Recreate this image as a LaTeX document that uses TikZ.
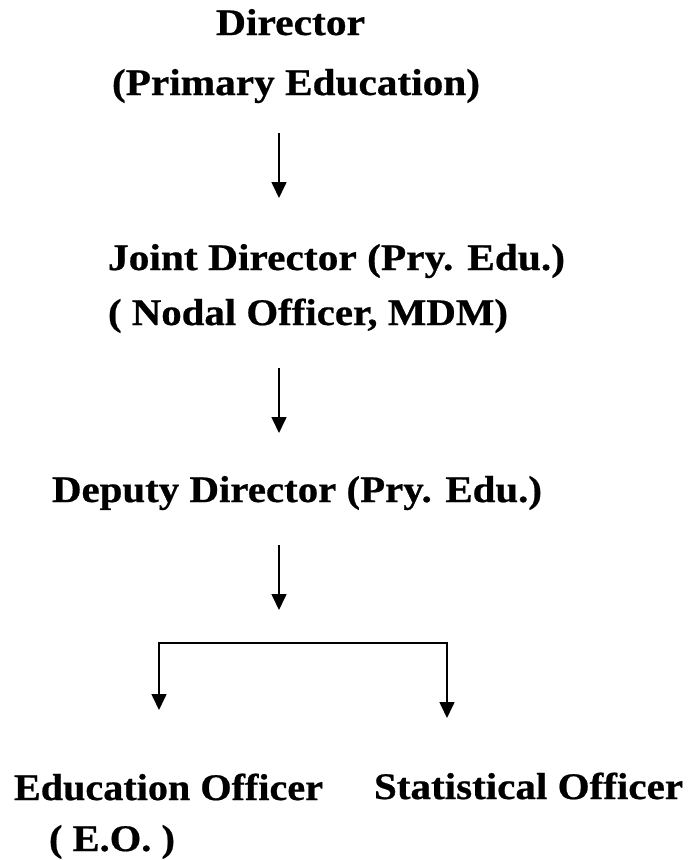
\documentclass[tikz,border=0pt]{standalone}
\usepackage{fontspec}
\usepackage{graphicx}
\setmainfont{Liberation Serif}[BoldFeatures={FakeBold=0.6}]
\usetikzlibrary{arrows.meta}
\newcommand{\fitw}[2]{\resizebox{#1pt}{\height}{#2}}
\begin{document}
\begin{tikzpicture}[x=1pt,y=-1pt,
  lbl/.style={anchor=base west,inner sep=0pt,outer sep=0pt,font=\bfseries\fontsize{37.5}{42}\selectfont},
  conn/.style={line width=1.6pt,-{Triangle[length=16pt,width=15pt]}},
  plain/.style={line width=1.6pt}]
\useasboundingbox[fill=white] (0,0) rectangle (689,860);
\node[lbl] (dir) at (216,35) {\fitw{149}{Director}};
\node[lbl] (dirsub) at (112,95) {\fitw{368}{(Primary Education)}};
\node[lbl] (jd) at (108,270) {\fitw{457}{Joint Director (Pry. Edu.)}};
\node[lbl] (jdsub) at (108,325) {\fitw{400}{( Nodal Officer, MDM)}};
\node[lbl] (dd) at (52,502) {\fitw{490}{Deputy Director (Pry. Edu.)}};
\node[lbl] (eo) at (14,800) {\fitw{309}{Education Officer}};
\node[lbl] (eosub) at (49,851) {\fitw{126}{( E.O. )}};
\node[lbl] (so) at (374,799) {\fitw{309}{Statistical Officer}};
\coordinate (a1s) at (279,133);
\coordinate (a1e) at (279,198);
\coordinate (a2s) at (279,368);
\coordinate (a2e) at (279,433);
\coordinate (a3s) at (279,545);
\coordinate (a3e) at (279,610);
\coordinate (bl) at (159,643);
\coordinate (br) at (447,643);
\coordinate (ble) at (159,710);
\coordinate (bre) at (447,718);
\draw[conn] (a1s) -- (a1e);
\draw[conn] (a2s) -- (a2e);
\draw[conn] (a3s) -- (a3e);
\draw[plain] ([xshift=-0.8pt]bl) -- ([xshift=0.8pt]br);
\draw[conn] (bl) -- (ble);
\draw[conn] (br) -- (bre);
\end{tikzpicture}
\end{document}
